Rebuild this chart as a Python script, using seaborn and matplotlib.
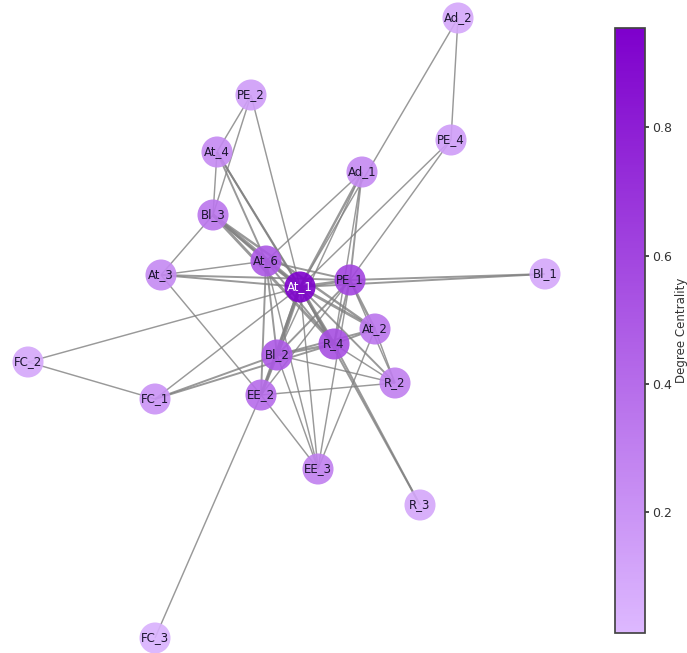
import numpy as np
import pandas as pd
import matplotlib
matplotlib.use("Agg")
import matplotlib.pyplot as plt
from matplotlib.colors import LinearSegmentedColormap, Normalize
from matplotlib.collections import LineCollection
import seaborn as sns

# Nodes and their layout coordinates
nodes = ["Ad_2", "PE_2", "PE_4", "At_4", "Ad_1", "Bl_3", "At_6", "At_3", "At_1", "PE_1",
         "Bl_1", "At_2", "R_4", "Bl_2", "FC_2", "R_2", "FC_1", "EE_2", "EE_3", "R_3", "FC_3"]
pos_x = [458, 251, 451, 217, 362, 213, 266, 161, 300, 350,
         545, 375, 334, 277, 28, 395, 155, 261, 318, 420, 155]
pos_y = [18, 95, 140, 152, 172, 215, 261, 275, 287, 280,
         274, 329, 344, 355, 362, 383, 399, 395, 469, 505, 638]

# Edge list: source, target, weight
edge_src = ["At_1"] * 19 + [
    "Ad_2", "PE_4", "Ad_1", "Ad_1", "Ad_1", "Ad_1", "PE_2", "PE_2", "At_4", "At_4",
    "At_4", "Bl_3", "Bl_3", "Bl_3", "Bl_3", "At_3", "At_3", "At_3", "FC_2", "FC_1",
    "FC_1", "FC_3", "At_6", "At_6", "At_6", "At_6", "At_6", "PE_1", "PE_1", "PE_1",
    "PE_1", "PE_1", "PE_1", "PE_1", "At_2", "At_2", "At_2", "At_2", "R_4", "R_4",
    "Bl_2", "Bl_2", "Bl_2", "EE_2", "EE_2", "R_3"]
edge_dst = ["At_6", "PE_1", "Ad_1", "PE_4", "At_4", "PE_2", "Bl_3", "At_3", "FC_2", "FC_1",
            "Bl_2", "EE_2", "R_4", "At_2", "R_2", "EE_3", "R_3", "Bl_1", "Ad_2"] + [
    "PE_4", "PE_1", "PE_1", "R_4", "At_6", "Bl_2", "At_4", "Bl_3", "Bl_3", "At_6",
    "R_4", "At_3", "At_6", "R_4", "At_2", "At_6", "EE_2", "PE_1", "FC_1", "Bl_2",
    "R_4", "EE_2", "Bl_2", "EE_2", "EE_3", "R_4", "PE_1", "Bl_1", "At_2", "R_2",
    "Bl_2", "EE_2", "EE_3", "R_4", "R_4", "R_2", "Bl_2", "EE_3", "Bl_2", "R_2",
    "EE_2", "R_2", "EE_3", "R_2", "EE_3", "R_4"]
edge_w = [3, 3, 2.5, 1.5, 2, 1.5, 3.5, 2, 1.5, 1.5,
          4, 3, 3.5, 3, 2, 1.5, 2, 2, 1.5] + [
    1.5, 1.5, 2, 1.5, 1.5, 1.5, 1.5, 1.5, 1.5, 2,
    2, 1.5, 2.5, 3, 2.5, 1.5, 1.5, 2, 1.5, 2,
    2, 1.5, 2, 2, 1.5, 2, 2, 2, 2.5, 1.5,
    2, 1.5, 1.5, 2, 2, 1.5, 2, 1.5, 2.5, 1.5,
    3, 1.5, 1.5, 1.5, 1.5, 2]

n = len(nodes)
idx = {name: i for i, name in enumerate(nodes)}

# Degree centrality = degree / (n - 1)
degree = np.zeros(n)
for s, t in zip(edge_src, edge_dst):
    degree[idx[s]] += 1
    degree[idx[t]] += 1
centrality = degree / (n - 1)

df = pd.DataFrame({"node": nodes, "x": pos_x, "y": pos_y, "centrality": centrality})

sns.set_theme(style="white")
plt.rcParams["font.family"] = ["DejaVu Sans"]

cmap = LinearSegmentedColormap.from_list("deg", ["#DDB8FF", "#7E00CC"])
norm = Normalize(vmin=0.012, vmax=0.955)

W, H = 687, 653
fig = plt.figure(figsize=(W / 100, H / 100), dpi=100)
ax = fig.add_axes([0, 0, 1, 1])

segs = [[(pos_x[idx[s]], pos_y[idx[s]]), (pos_x[idx[t]], pos_y[idx[t]])]
        for s, t in zip(edge_src, edge_dst)]
lc = LineCollection(segs, colors="#808080", linewidths=np.array(edge_w) * 0.7,
                    alpha=0.8, zorder=1)
ax.add_collection(lc)

sns.scatterplot(data=df, x="x", y="y", hue="centrality", palette=cmap, hue_norm=norm,
                s=500, alpha=0.9, edgecolor="none", legend=False, ax=ax, zorder=2)
ax.set_xlim(0, W)
ax.set_ylim(H, 0)
ax.axis("off")

for name, x, y, c in zip(nodes, pos_x, pos_y, centrality):
    col = "white" if c > 0.8 else "#1c1530"
    ax.text(x, y, name, ha="center", va="center", fontsize=8.5, color=col, zorder=3)

cax = fig.add_axes([615 / W, (H - 633) / H, 30 / W, 605 / H])
sm = plt.cm.ScalarMappable(cmap=cmap, norm=norm)
cb = fig.colorbar(sm, cax=cax)
cb.set_ticks([0.2, 0.4, 0.6, 0.8])
cb.ax.tick_params(labelsize=9, length=3, pad=2, colors="#333333")
cb.set_label("Degree Centrality", fontsize=8.5, color="#333333", labelpad=2)
cb.outline.set_edgecolor("#444444")

fig.savefig("out.png", dpi=100)
